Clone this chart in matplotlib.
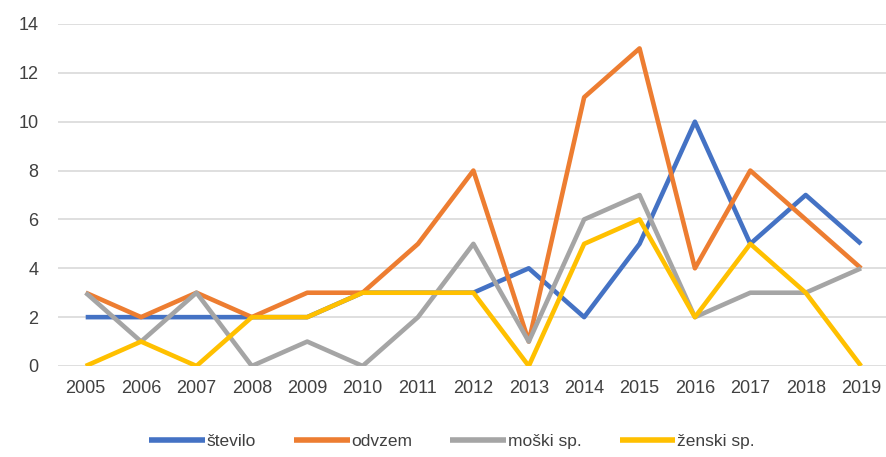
import matplotlib.pyplot as plt

years = [str(y) for y in range(2005, 2020)]
stevilo = [2, 2, 2, 2, 2, 3, 3, 3, 4, 2, 5, 10, 5, 7, 5]
odvzem = [3, 2, 3, 2, 3, 3, 5, 8, 1, 11, 13, 4, 8, 6, 4]
moski = [3, 1, 3, 0, 1, 0, 2, 5, 1, 6, 7, 2, 3, 3, 4]
zenski = [0, 1, 0, 2, 2, 3, 3, 3, 0, 5, 6, 2, 5, 3, 0]

series = [
    ("število", stevilo, "#4472C4"),
    ("odvzem", odvzem, "#ED7D31"),
    ("moški sp.", moski, "#A5A5A5"),
    ("ženski sp.", zenski, "#FFC000"),
]

plt.rcParams['font.family'] = ['Liberation Sans', 'DejaVu Sans']

fig = plt.figure(figsize=(8.86, 4.57), dpi=100)
ax = fig.add_axes([58 / 886, 91 / 457, 1 - 58 / 886, 342 / 457])

x = list(range(len(years)))
for name, vals, col in series:
    ax.plot(x, vals, color=col, lw=3.3, label=name, solid_capstyle='butt')

ax.set_xlim(-0.5, 14.45)
ax.set_ylim(0, 14)
ax.set_yticks(range(0, 15, 2))
ax.set_xticks(x)
ax.set_xticklabels(years)
ax.tick_params(length=0, labelsize=13, colors="#404040", pad=10)
ax.tick_params(axis='y', pad=14)
ax.grid(axis='y', color="#d9d9d9", lw=1.2)
ax.set_axisbelow(True)
for s in ax.spines.values():
    s.set_visible(False)

leg = fig.legend(loc='center', bbox_to_anchor=(0.51, 0.035), ncol=4, frameon=False,
                 fontsize=12.5, handlelength=3.2, handletextpad=0.1, columnspacing=2.2)
for t in leg.get_texts():
    t.set_color("#404040")
for h in leg.get_lines():
    h.set_linewidth(4)

fig.savefig("out.png", dpi=100)
